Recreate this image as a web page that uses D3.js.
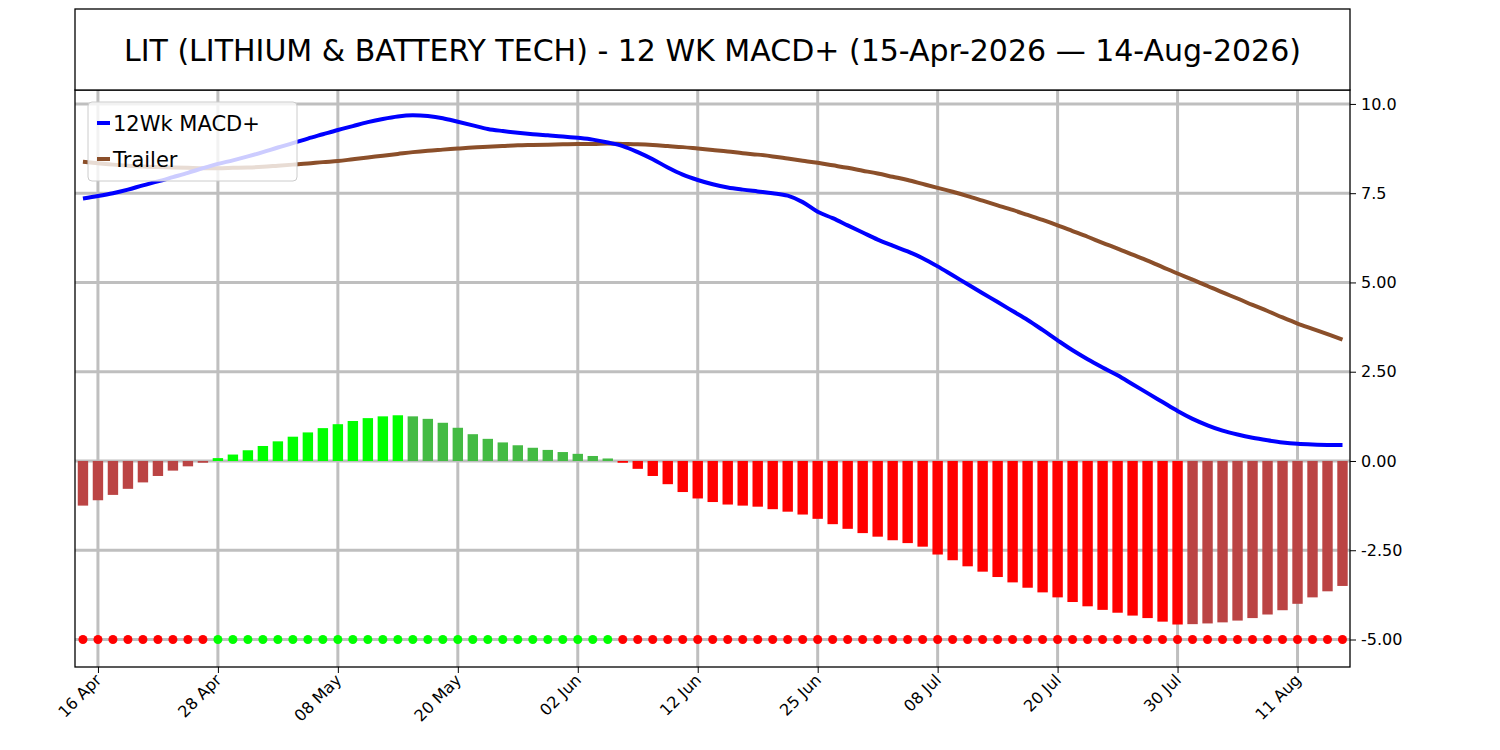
<!DOCTYPE html>
<html><head><meta charset="utf-8">
<script src="https://cdn.jsdelivr.net/npm/d3@7"></script>
<style>body{margin:0;background:#fff}text{font-family:"DejaVu Sans",sans-serif}</style>
</head><body><svg id="chart" width="1500" height="750"></svg>
<script>
var title = "LIT (LITHIUM & BATTERY TECH) - 12 WK MACD+ (15-Apr-2026 \u2014 14-Aug-2026)";
var xTickIdx = [1, 9, 17, 25, 33, 41, 49, 57, 65, 73, 81];
var xTickLabels = ["16 Apr","28 Apr","08 May","20 May","02 Jun","12 Jun","25 Jun","08 Jul","20 Jul","30 Jul","11 Aug"];
var yTicks = [10, 7.5, 5, 2.5, 0, -2.5, -5];
var yTickLabels = ["10.0","7.5","5.00","2.50","0.00","-2.50","-5.00"];
var macd = [7.35,7.42,7.5,7.6,7.72,7.83,7.95,8.07,8.2,8.32,8.42,8.53,8.65,8.78,8.9,9.03,9.15,9.27,9.38,9.49,9.58,9.65,9.68,9.66,9.6,9.5,9.4,9.3,9.24,9.19,9.15,9.12,9.09,9.05,9.0,8.92,8.82,8.65,8.45,8.22,8.02,7.87,7.75,7.66,7.6,7.55,7.5,7.43,7.25,6.98,6.8,6.6,6.4,6.2,6.03,5.87,5.68,5.45,5.2,4.95,4.7,4.45,4.2,3.95,3.67,3.38,3.1,2.85,2.62,2.4,2.15,1.9,1.65,1.4,1.18,1.0,0.85,0.74,0.65,0.58,0.52,0.48,0.46,0.45,0.45];
var trailer = [8.38,8.34,8.3,8.27,8.25,8.23,8.22,8.21,8.2,8.2,8.21,8.22,8.24,8.27,8.3,8.33,8.37,8.4,8.45,8.5,8.55,8.6,8.65,8.69,8.72,8.75,8.78,8.8,8.82,8.84,8.85,8.86,8.87,8.88,8.88,8.89,8.88,8.87,8.85,8.82,8.79,8.75,8.71,8.67,8.62,8.58,8.53,8.47,8.41,8.35,8.28,8.21,8.13,8.05,7.96,7.87,7.76,7.65,7.54,7.42,7.29,7.16,7.03,6.89,6.75,6.6,6.44,6.28,6.11,5.95,5.78,5.61,5.43,5.25,5.08,4.9,4.72,4.55,4.37,4.2,4.02,3.85,3.7,3.55,3.4];
var hist = [-1.25,-1.1,-0.95,-0.78,-0.6,-0.42,-0.27,-0.15,-0.05,0.08,0.18,0.3,0.42,0.55,0.68,0.8,0.92,1.03,1.12,1.2,1.25,1.28,1.25,1.18,1.07,0.93,0.75,0.62,0.52,0.44,0.37,0.31,0.25,0.2,0.14,0.07,-0.05,-0.22,-0.42,-0.65,-0.87,-1.05,-1.15,-1.22,-1.25,-1.28,-1.35,-1.42,-1.5,-1.62,-1.77,-1.9,-2.02,-2.12,-2.22,-2.3,-2.4,-2.62,-2.78,-2.95,-3.1,-3.25,-3.4,-3.55,-3.68,-3.82,-3.95,-4.07,-4.17,-4.25,-4.33,-4.4,-4.5,-4.58,-4.57,-4.55,-4.52,-4.47,-4.4,-4.3,-4.18,-4.0,-3.82,-3.65,-3.5];

var svg = d3.select("#chart");
var L = 75, R = 1350, T = 90, B = 667;
var x = d3.scaleLinear().domain([-0.53, 84.5]).range([L, R]);
var y = d3.scaleLinear().domain([-5.77, 10.39]).range([B, T]);
var idx = d3.range(hist.length);

// grid
svg.append("g").selectAll("line").data(yTicks).enter().append("line")
  .attr("x1", L).attr("x2", R).attr("y1", d => y(d)).attr("y2", d => y(d))
  .attr("stroke", "#bfbfbf").attr("stroke-width", 3);
svg.append("g").selectAll("line").data(xTickIdx).enter().append("line")
  .attr("x1", d => x(d)).attr("x2", d => x(d)).attr("y1", T).attr("y2", B)
  .attr("stroke", "#bfbfbf").attr("stroke-width", 3);

// histogram
function barColor(i) {
  var v = hist[i], p = i > 0 ? hist[i - 1] : v - (hist[1] - hist[0]);
  if (v >= 0) return v >= p ? "#00ff00" : "#44bb44";
  return v <= p ? "#ff0000" : "#bb4444";
}
svg.append("g").selectAll("rect").data(idx).enter().append("rect")
  .attr("x", i => x(i) - 5.2).attr("width", 10.4)
  .attr("y", i => y(Math.max(0, hist[i])))
  .attr("height", i => Math.abs(y(hist[i]) - y(0)))
  .attr("fill", barColor);

// signal dots
svg.append("g").selectAll("circle").data(idx).enter().append("circle")
  .attr("cx", i => x(i)).attr("cy", y(-5)).attr("r", 4.5)
  .attr("fill", i => hist[i] >= 0 ? "#00ff00" : "#ff0000");

var line = d3.line().x((d, i) => x(i)).y(d => y(d)).curve(d3.curveMonotoneX);
svg.append("path").attr("d", line(trailer)).attr("fill", "none").attr("stroke", "#8b4f2a").attr("stroke-width", 4);
svg.append("path").attr("d", line(macd)).attr("fill", "none").attr("stroke", "#0000ff").attr("stroke-width", 4);

// frame & axes
svg.append("rect").attr("x", L).attr("y", T).attr("width", R - L).attr("height", B - T)
  .attr("fill", "none").attr("stroke", "#000").attr("stroke-width", 1.3);
var ya = svg.append("g").attr("transform", "translate(" + R + ",0)")
  .call(d3.axisRight(y).tickValues(yTicks).tickFormat((d, i) => yTickLabels[i]).tickSize(6).tickPadding(5));
ya.select(".domain").remove();
ya.selectAll("text").attr("font-size", 16).attr("font-family", "DejaVu Sans");
var xa = svg.append("g").attr("transform", "translate(0," + B + ")")
  .call(d3.axisBottom(x).tickValues(xTickIdx).tickFormat((d, i) => xTickLabels[i]).tickSize(6));
xa.select(".domain").remove();
xa.selectAll("text").attr("font-size", 16).attr("font-family", "DejaVu Sans")
  .attr("text-anchor", "end").attr("dy", null).attr("y", 0)
  .attr("transform", "translate(4,14) rotate(-45)");

// title box
svg.append("rect").attr("x", L).attr("y", 9).attr("width", R - L).attr("height", T - 9)
  .attr("fill", "#fff").attr("stroke", "#000").attr("stroke-width", 1.3);
svg.append("text").attr("x", (L + R) / 2).attr("y", 61).attr("text-anchor", "middle")
  .attr("font-size", 30).text(title);

// legend
var lg = svg.append("g");
lg.append("rect").attr("x", 88).attr("y", 102).attr("width", 209).attr("height", 79).attr("rx", 4)
  .attr("fill", "#fff").attr("fill-opacity", 0.8).attr("stroke", "#ccc");
[["12Wk MACD+", "#0000ff"], ["Trailer", "#8b4f2a"]].forEach(function(d, i) {
  var yy = 123 + i * 36;
  lg.append("line").attr("x1", 97).attr("x2", 110).attr("y1", yy).attr("y2", yy).attr("stroke", d[1]).attr("stroke-width", 4);
  lg.append("text").attr("x", 113).attr("y", yy + 8).attr("font-size", 21).text(d[0]);
});
</script></body></html>
